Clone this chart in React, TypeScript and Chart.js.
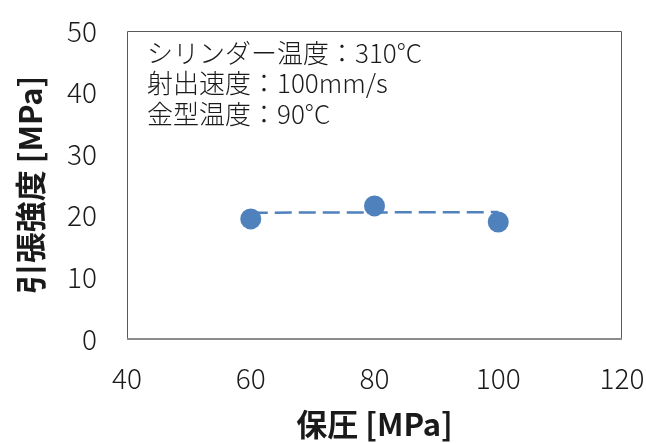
import React, { useEffect, useRef } from "react";
import { Chart, registerables } from "chart.js";

Chart.register(...registerables);

const pressure = [60, 80, 100];
const strength = [19.5, 21.6, 19.0];
const trendX = [60, 100];
const trendY = [20.5, 20.6];
const xRange = [40, 120];
const yRange = [0, 50];
const xStep = 20;
const yStep = 10;
const notes = ["シリンダー温度：310°C", "射出速度：100mm/s", "金型温度：90°C"];
const xTitle = "保圧 [MPa]";
const yTitle = "引張強度 [MPa]";

const FONT = '"Noto Sans CJK JP", "Noto Sans", sans-serif';
const BLUE = "#4F81BD";
const TEXT = "#1a1a1a";

const framePlugin = {
  id: "frameAndNotes",
  afterDraw(chart: any) {
    const { ctx, chartArea } = chart;
    const { left, top, right, bottom } = chartArea;
    ctx.save();
    ctx.strokeStyle = "#595959";
    ctx.lineWidth = 1;
    ctx.beginPath();
    ctx.moveTo(left + 0.5, bottom);
    ctx.lineTo(left + 0.5, top + 0.5);
    ctx.lineTo(right - 0.5, top + 0.5);
    ctx.lineTo(right - 0.5, bottom);
    ctx.stroke();
    ctx.strokeStyle = "#8c8c8c";
    ctx.lineWidth = 2;
    ctx.beginPath();
    ctx.moveTo(left, bottom);
    ctx.lineTo(right, bottom);
    ctx.stroke();

    ctx.fillStyle = TEXT;
    ctx.font = `300 26px ${FONT}`;
    ctx.textBaseline = "middle";
    ctx.textAlign = "left";
    notes.forEach((t, i) => {
      ctx.fillText(t, left + 20, top + 22 + i * 30.5);
    });
    ctx.restore();
  },
};

export default function App() {
  const ref = useRef<HTMLCanvasElement | null>(null);

  useEffect(() => {
    if (!ref.current) return;
    const chart = new Chart(ref.current, {
      type: "scatter",
      data: {
        datasets: [
          {
            label: "points",
            data: pressure.map((x, i) => ({ x, y: strength[i] })),
            backgroundColor: BLUE,
            borderColor: BLUE,
            pointRadius: 10.5,
            pointBorderWidth: 0,
            showLine: false,
          },
          {
            label: "trend",
            data: trendX.map((x, i) => ({ x, y: trendY[i] })),
            borderColor: BLUE,
            borderWidth: 2.5,
            borderDash: [17, 7],
            pointRadius: 0,
            showLine: true,
            fill: false,
          },
        ],
      },
      options: {
        animation: false,
        responsive: false,
        events: [],
        layout: { padding: { left: 0, top: 31, right: 24, bottom: 0 } },
        plugins: {
          legend: { display: false },
          tooltip: { enabled: false },
        },
        scales: {
          x: {
            type: "linear",
            min: xRange[0],
            max: xRange[1],
            ticks: {
              stepSize: xStep,
              font: { size: 28, weight: "300", family: FONT },
              color: TEXT,
              padding: 23,
              maxRotation: 0,
            },
            grid: { display: false, drawTicks: false },
            border: { display: false },
            title: {
              display: true,
              text: xTitle,
              font: { size: 31, weight: "bold", family: FONT },
              color: TEXT,
              padding: { top: 0, bottom: 0 },
            },
            afterFit: (s: any) => {
              s.height = 104;
              s.paddingLeft = 0;
              s.paddingRight = 0;
            },
          },
          y: {
            type: "linear",
            min: yRange[0],
            max: yRange[1],
            ticks: {
              stepSize: yStep,
              font: { size: 28, weight: "300", family: FONT },
              color: TEXT,
              padding: 30,
            },
            grid: { display: false, drawTicks: false },
            border: { display: false },
            title: {
              display: true,
              text: yTitle,
              font: { size: 31, weight: "bold", family: FONT },
              color: TEXT,
              padding: { top: 12, bottom: 0 },
            },
            afterFit: (s: any) => {
              s.width = 127;
              s.paddingTop = 0;
              s.paddingBottom = 0;
            },
          },
        },
      },
      plugins: [framePlugin],
    });
    return () => chart.destroy();
  }, []);

  return (
    <div style={{ position: "fixed", left: 0, top: 0, width: 646, height: 443, background: "#fff" }}>
      <canvas ref={ref} width={646} height={443} style={{ width: 646, height: 443 }} />
    </div>
  );
}
